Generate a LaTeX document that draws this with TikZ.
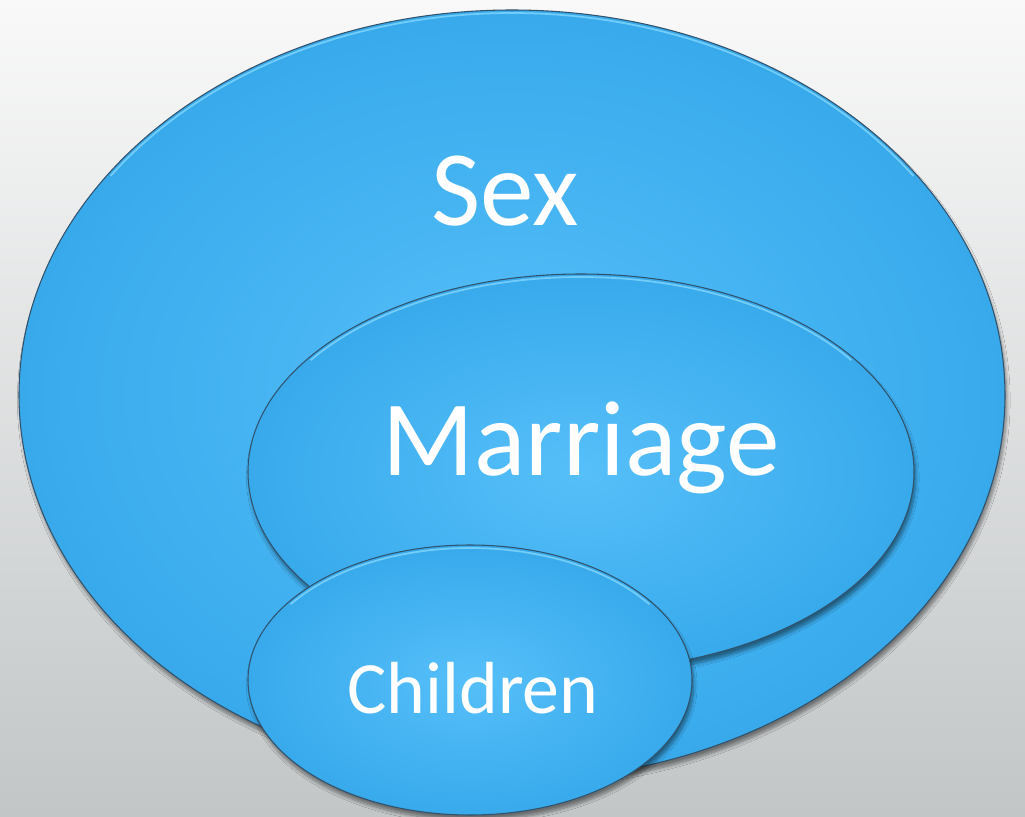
\documentclass[tikz,border=0pt]{standalone}
\usepackage{fontspec}
\setmainfont{Carlito}
\usepackage{tikz}
\usetikzlibrary{shadows.blur}
\definecolor{sky}{RGB}{56, 170, 236}
\definecolor{skylight}{RGB}{86, 191, 249}
\definecolor{rim}{RGB}{48, 82, 108}
\definecolor{gleam}{RGB}{140, 220, 255}
\definecolor{paper}{RGB}{249, 249, 249}
\definecolor{paperdark}{RGB}{194, 198, 199}

\begin{document}
\begin{tikzpicture}[x=0.02cm, y=-0.02cm,
  bubble/.style={draw=rim, line width=0.6pt, inner color=skylight, outer color=sky,
    blur shadow={shadow xshift=1pt, shadow yshift=-3pt, shadow blur steps=8, shadow opacity=45}},
  shine/.style={draw=gleam, line width=1pt, opacity=0.7},
  word/.style={text=white, anchor=base}]
  \shade[top color=paper, bottom color=paperdark] (0, 0) rectangle (1025, 817);
  \useasboundingbox (0, 0) rectangle (1025, 817);

  % the three rings, outer first
  \path[bubble] (512, 395) ellipse [x radius=493, y radius=385];
  \draw[shine] (512, 395) ++({490*cos(215)}, {382*sin(215)})
    arc [start angle=215, end angle=325, x radius=490, y radius=382];
  \path[bubble] (581, 472) ellipse [x radius=333, y radius=198];
  \draw[shine] (581, 472) ++({330*cos(215)}, {195*sin(215)})
    arc [start angle=215, end angle=325, x radius=330, y radius=195];
  \path[bubble] (470, 680) ellipse [x radius=222, y radius=135];
  \draw[shine] (470, 680) ++({219*cos(215)}, {132*sin(215)})
    arc [start angle=215, end angle=325, x radius=219, y radius=132];

  \node[word, font=\fontsize{61}{61}\selectfont] (sex) at (505, 226) {Sex};
  \node[word, font=\fontsize{61}{61}\selectfont] (marriage) at (581, 476) {Marriage};
  \node[word, font=\fontsize{42}{42}\selectfont] (children) at (473, 713) {Children};

\end{tikzpicture}
\end{document}
